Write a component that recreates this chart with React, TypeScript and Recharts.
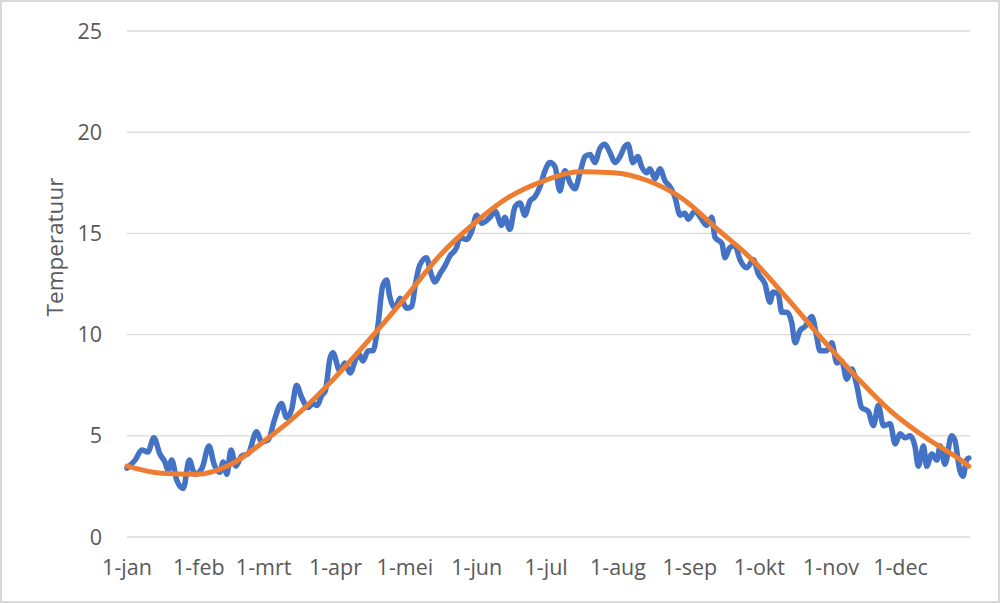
import { LineChart, Line, XAxis, YAxis, CartesianGrid, Label } from "recharts";

const dailyDays = [
  0, 3.5, 6.4, 9, 11.6, 14.2, 16.4, 17.7, 19.3, 21.5, 24.3, 26.9, 29.3, 32.4, 35.4, 37.6, 40.1, 41.5, 43.1,
  44.9, 47, 49.5, 52.2, 56, 58.1, 61, 63.7, 66.7, 68.9, 71.1, 73.2, 75.4, 78.2, 80.3, 82.1, 84.1, 85.6,
  87.6, 88.9, 91.9, 94.1, 96.3, 98.5, 99.8, 101.9, 104.1, 106.2, 108.3, 110.4, 112.1, 113.4, 115.7, 117.9,
  120.8, 123, 124.4, 126.3, 129.3, 131.3, 133, 135.1, 137.3, 139.5, 142.3, 143.7, 146.6, 148.8, 151, 153.2,
  156.8, 158.9, 161.8, 163.1, 165.3, 167.5, 169.7, 171.8, 174, 176.1, 178.3, 180.5, 182.6, 184.8, 186.9,
  189.1, 191.3, 193.4, 195.6, 197.8, 200, 202, 204.2, 206.4, 208.5, 210.7, 212.9, 215, 216.3, 218.5, 220.6,
  222.2, 224.4, 225.8, 228, 230.1, 232.3, 234.5, 236.6, 238.8, 240.9, 242.3, 245.2, 248.1, 250.3, 252.5,
  253.9, 256.9, 258.2, 260.3, 262.5, 264.7, 267.6, 270.5, 272.6, 275.5, 277.6, 279, 281.2, 282.7, 284.9,
  287, 288.5, 290.6, 292.8, 295.7, 297.8, 299.2, 302.1, 304.3, 306.5, 308.6, 310.8, 312.9, 315.1, 317.2,
  320.1, 322.3, 324.4, 326.6, 329.5, 331.7, 333.8, 335.9, 338.1, 340.2, 341.7, 343.9, 345.3, 347.5, 349.7,
  351.1, 353.2, 356, 357.4, 359.6, 361, 362.5, 363.5,
];
const dailyTemps = [
  3.4, 3.8, 4.3, 4.2, 4.9, 4.1, 3.7, 3.3, 3.8, 2.8, 2.4, 3.8, 3.1, 3.4, 4.5, 3.6, 3.2, 3.7, 3.1,
  4.3, 3.5, 4.0, 4.1, 5.2, 4.7, 4.8, 5.8, 6.6, 5.9, 6.3, 7.5, 6.9, 6.4, 6.6, 6.5, 7.0, 7.2,
  8.8, 9.1, 8.2, 8.6, 8.1, 8.7, 9.1, 8.7, 9.2, 9.2, 10.4, 12.4, 12.7, 11.9, 11.3, 11.8,
  11.3, 11.4, 12.4, 13.4, 13.8, 13.0, 12.6, 13.0, 13.4, 13.9, 14.3, 14.8, 14.7, 15.1, 15.9, 15.5,
  15.8, 16.1, 15.4, 15.8, 15.2, 16.3, 16.5, 15.9, 16.6, 16.8, 17.3, 18.1, 18.5, 18.3, 17.1,
  18.1, 17.5, 17.2, 18.0, 18.8, 18.9, 18.5, 19.2, 19.4, 19.0, 18.5, 18.8, 19.3, 19.4, 18.5, 18.8,
  18.3, 18.0, 18.2, 17.7, 18.2, 17.6, 17.3, 16.8, 15.9, 16.0, 15.7, 16.1, 15.7, 15.4, 15.8,
  14.8, 14.5, 13.8, 14.3, 14.4, 13.7, 13.3, 13.7, 13.0, 12.5, 11.6, 12.1, 12.0, 11.1, 11.1,
  10.6, 9.6, 10.2, 10.4, 10.9, 9.9, 9.2, 9.2, 9.6, 8.6, 8.7, 7.8, 8.3, 7.5, 6.4,
  6.2, 5.5, 6.5, 5.5, 5.6, 4.6, 5.1, 4.9, 5.0, 4.5, 3.5, 4.5, 3.5, 4.1, 3.8,
  4.5, 3.6, 5.0, 4.8, 3.3, 3.0, 3.8, 3.9,
];

// smooth trend curve
const trendDays = [0, 15, 30, 45, 60, 75, 90, 105, 120, 135, 150, 165, 180, 195, 210, 225, 240, 255, 270, 285, 300, 315, 330, 345, 360, 363.5];
const trendTemps = [3.5, 3.15, 3.1, 3.6, 4.8, 6.2, 7.9, 9.8, 11.8, 13.9, 15.5, 16.8, 17.6, 18.05, 18.0, 17.6, 16.7, 15.2, 13.7, 11.8, 9.8, 7.9, 6.2, 4.9, 3.8, 3.5];

const monthStarts = [0, 31, 59, 90, 120, 151, 181, 212, 243, 273, 304, 334];
const monthLabels = ["1-jan", "1-feb", "1-mrt", "1-apr", "1-mei", "1-jun", "1-jul", "1-aug", "1-sep", "1-okt", "1-nov", "1-dec"];
const tempTicks = [0, 5, 10, 15, 20, 25];

const dailyData = dailyDays.map((day, i) => ({ day, temp: dailyTemps[i] }));
const trendData = trendDays.map((day, i) => ({ day, temp: trendTemps[i] }));

const FONT = "'Open Sans', 'Liberation Sans', sans-serif";
const TEXT = "#595959";

export default function App() {
  return (
    <div style={{ position: "absolute", left: 0, top: 0, width: 1000, height: 603, background: "#fff" }}>
      <LineChart width={1000} height={603} margin={{ top: 31, right: 30, bottom: 36, left: 0 }}>
        <CartesianGrid vertical={false} stroke="#d9d9d9" strokeWidth={1.3} />
        <XAxis
          dataKey="day"
          type="number"
          domain={[0, 364]}
          ticks={monthStarts}
          tickFormatter={(d) => monthLabels[monthStarts.indexOf(d)] ?? ""}
          axisLine={false}
          tickLine={false}
          tickSize={0}
          tickMargin={23}
          interval={0}
          height={30}
          tick={{ fill: TEXT, fontSize: 21.5, fontFamily: FONT }}
        />
        <YAxis
          type="number"
          domain={[0, 25]}
          ticks={tempTicks}
          width={127}
          axisLine={false}
          tickLine={false}
          tickSize={0}
          tickMargin={25}
          tick={{ fill: TEXT, fontSize: 21.5, fontFamily: FONT }}
        >
          <Label
            content={() => (
              <text
                x={54}
                y={247}
                transform="rotate(-90 54 247)"
                textAnchor="middle"
                dominantBaseline="central"
                fill={TEXT}
                fontSize={22.5}
                fontFamily={FONT}
              >
                Temperatuur
              </text>
            )}
          />
        </YAxis>
        <Line
          data={dailyData}
          dataKey="temp"
          type="monotone"
          stroke="#4472c4"
          strokeWidth={5.5}
          strokeLinejoin="round"
          strokeLinecap="round"
          dot={false}
          activeDot={false}
          isAnimationActive={false}
        />
        <Line
          data={trendData}
          dataKey="temp"
          type="monotone"
          stroke="#ed7d31"
          strokeWidth={5}
          strokeLinecap="round"
          dot={false}
          activeDot={false}
          isAnimationActive={false}
        />
      </LineChart>
      <div
        style={{
          position: "absolute",
          left: 0,
          top: 0,
          width: 1000,
          height: 603,
          boxSizing: "border-box",
          border: "2px solid #d9d9d9",
          pointerEvents: "none",
        }}
      />
    </div>
  );
}
